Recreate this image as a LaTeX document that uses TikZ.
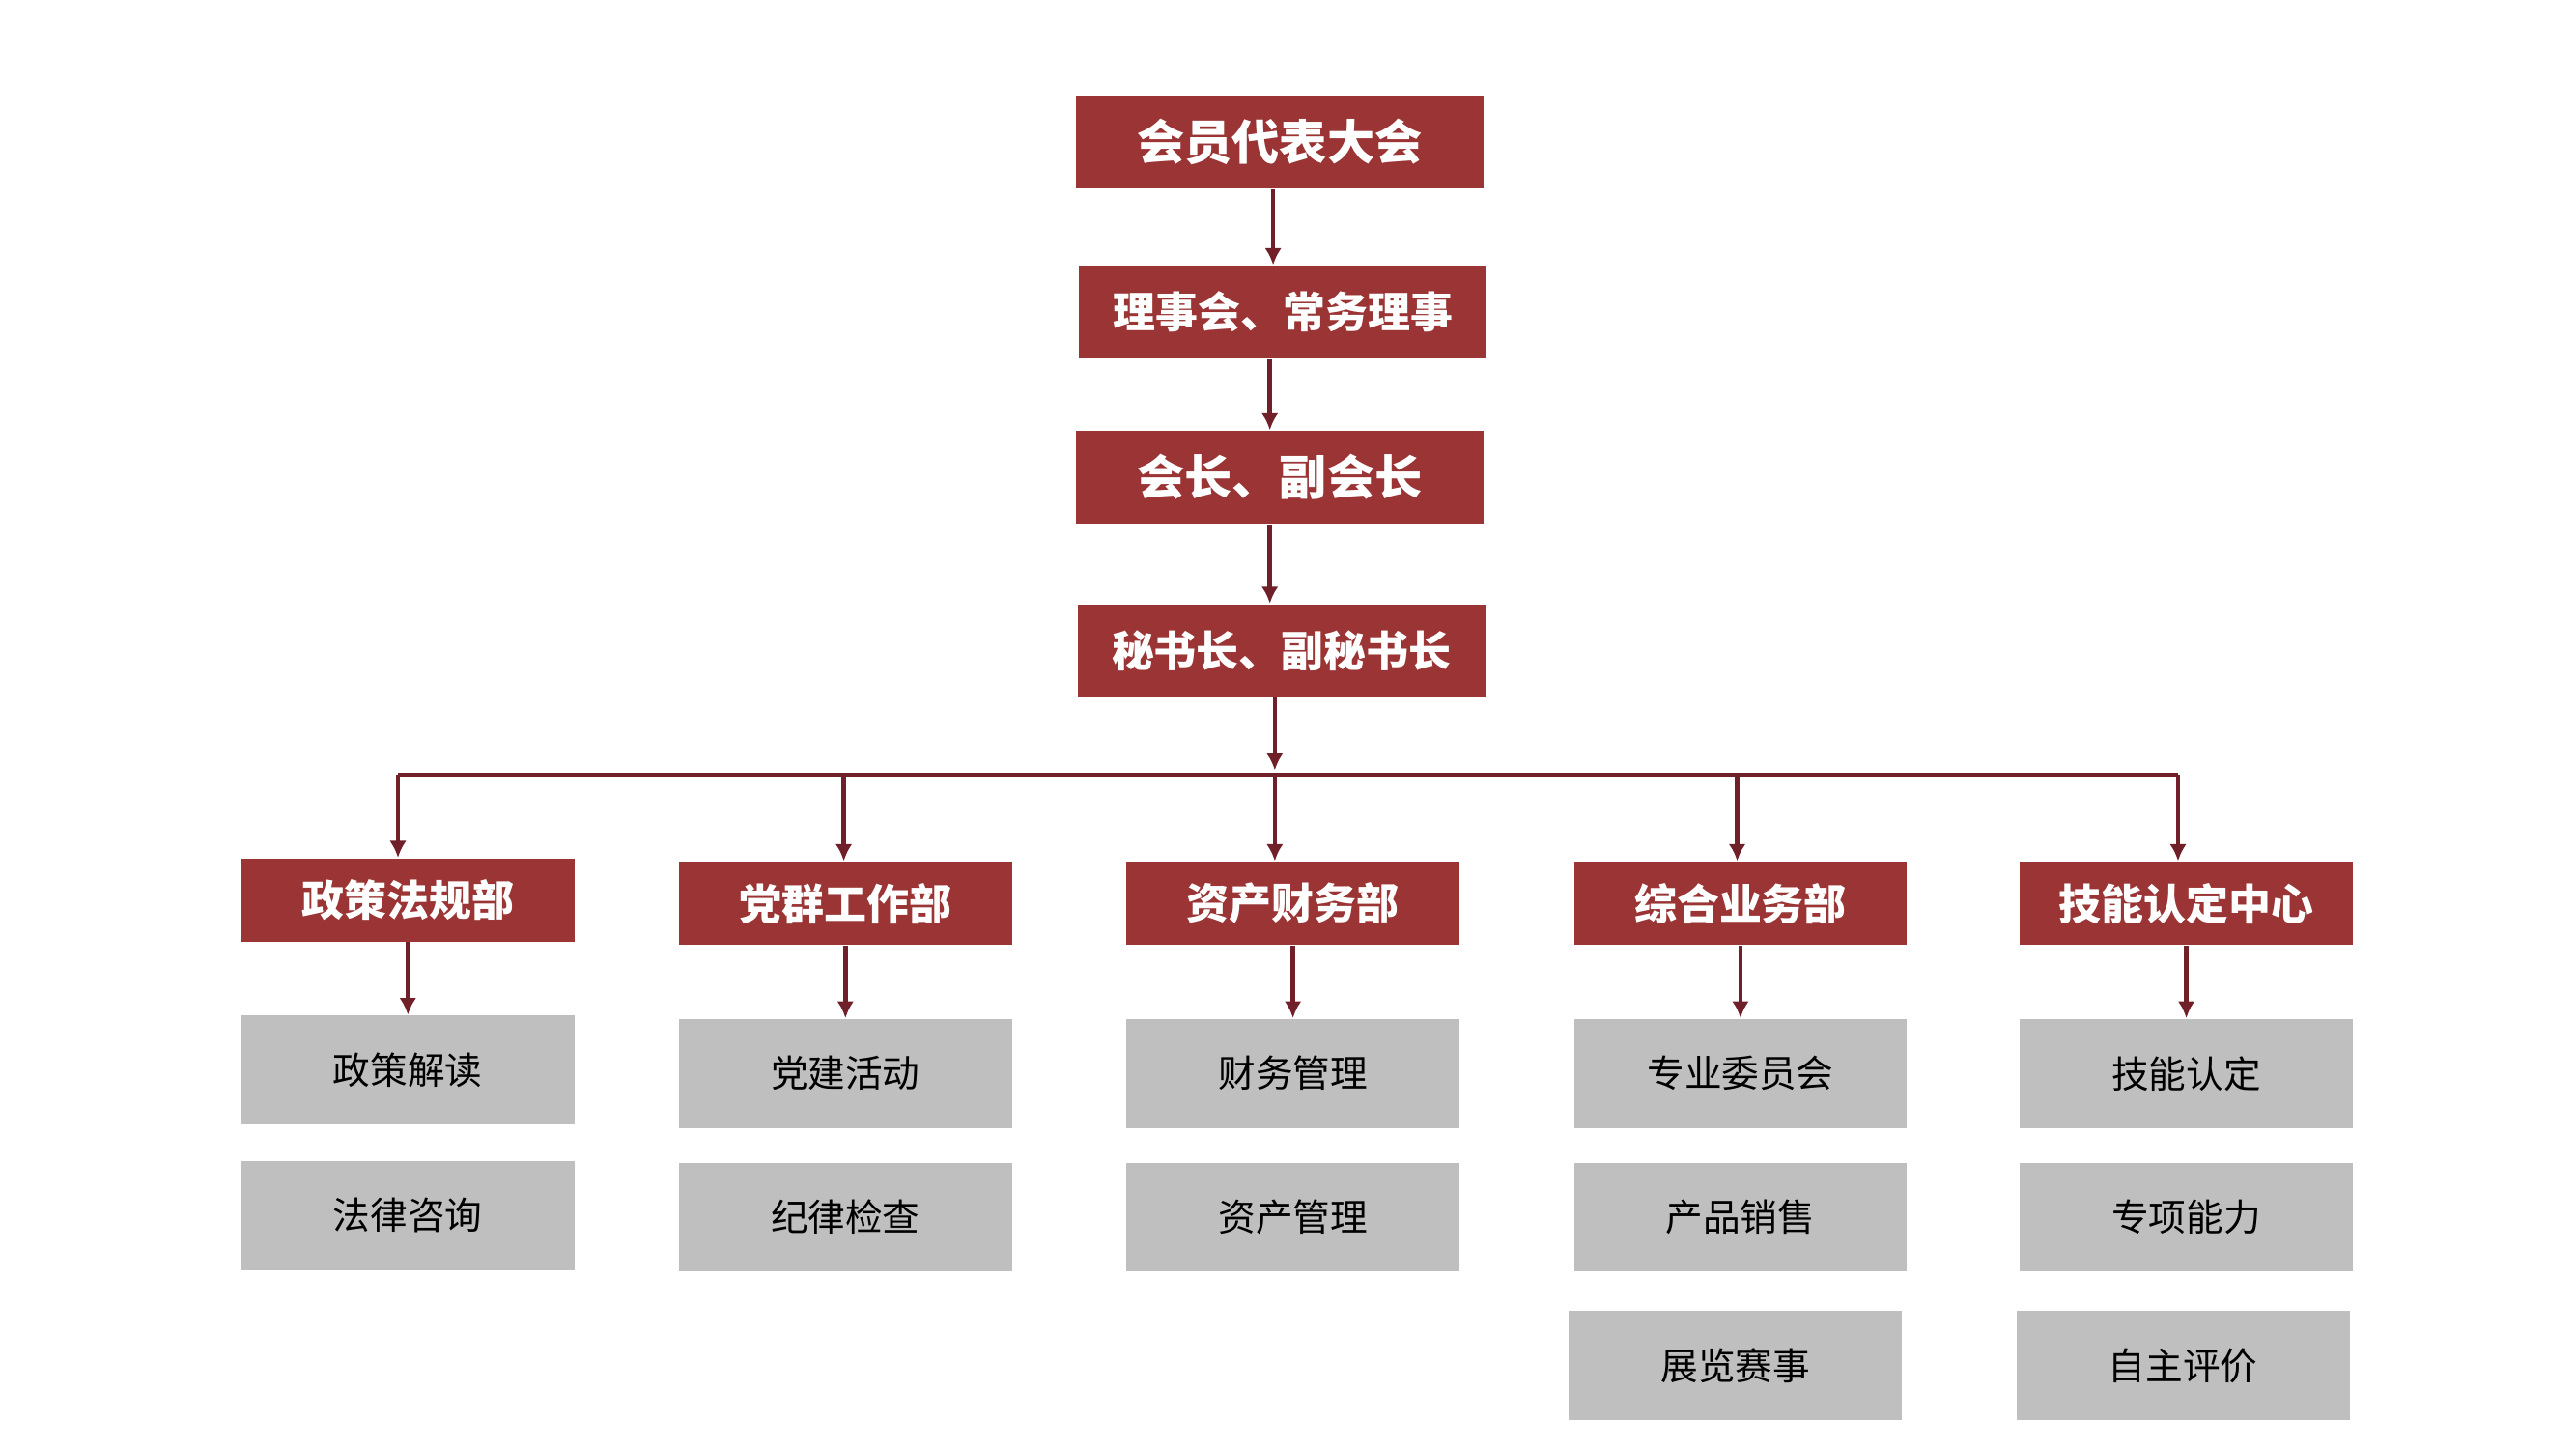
\documentclass[tikz,border=0pt]{standalone}
\usepackage{fontspec}
\newfontfamily\cjk{Noto Sans CJK SC}
\usetikzlibrary{positioning}
\definecolor{rougeorg}{RGB}{155,52,52}
\definecolor{traitorg}{RGB}{112,32,40}
\definecolor{grisorg}{RGB}{191,191,191}
\tikzstyle{chef}=[fill=rougeorg, text=white, font=\cjk\bfseries\fontsize{14pt}{16pt}\selectfont, minimum width=4.22cm, minimum height=0.96cm, inner sep=0]
\tikzstyle{dept}=[fill=rougeorg, text=white, font=\cjk\bfseries\fontsize{12.5pt}{14pt}\selectfont, minimum width=3.45cm, minimum height=0.86cm, inner sep=0]
\tikzstyle{tache}=[fill=grisorg, text=black, font=\cjk\fontsize{11pt}{13pt}\selectfont, minimum width=3.45cm, minimum height=1.13cm, inner sep=0]
\tikzstyle{fleche}=[traitorg, line width=1.3pt, -{Latex[length=5pt,width=5pt]}]
\usetikzlibrary{arrows.meta}
\begin{document}
\begin{tikzpicture}[x=0.0171cm, y=-0.0171cm]
\useasboundingbox (0,0) rectangle (1560,877);
% direction
\node[chef] (A) at (775,86) {会员代表大会};
\node[chef, font=\cjk\bfseries\fontsize{12.5pt}{14pt}\selectfont] (B) at (777,189) {理事会、常务理事};
\node[chef] (C) at (775,289) {会长、副会长};
\node[chef, font=\cjk\bfseries\fontsize{12.5pt}{14pt}\selectfont] (D) at (776,394) {秘书长、副秘书长};
\draw[fleche] (A.south -| 771,0) -- (B.north -| 771,0);
\draw[fleche] (B.south -| 769,0) -- (C.north -| 769,0);
\draw[fleche] (C.south -| 769,0) -- (D.north -| 769,0);
\coordinate (H) at (772,469);
\coordinate (Hg) at (241,469);
\coordinate (Hd) at (1319,469);
\draw[fleche] (D.south -| H) -- ++(0,44);
\draw[traitorg, line width=1.3pt] (Hg) -- (Hd);
% departements
\foreach \I/\X/\Y/\T in {1/247/545/政策法规部, 2/512/547/党群工作部, 3/783/547/资产财务部, 4/1054/547/综合业务部, 5/1324/547/技能认定中心}
{\node[dept] (P\I) at (\X,\Y) {\T};}
\foreach \I/\X in {1/241, 2/511, 3/772, 4/1052, 5/1319}
\draw[fleche] (\X,469) -- (P\I.north -| \X,0);
% taches
\node[tache] (T11) at (247,648) {政策解读};
\node[tache] (T12) at (247,736) {法律咨询};
\node[tache] (T21) at (512,650) {党建活动};
\node[tache] (T22) at (512,737) {纪律检查};
\node[tache] (T31) at (783,650) {财务管理};
\node[tache] (T32) at (783,737) {资产管理};
\node[tache] (T41) at (1054,650) {专业委员会};
\node[tache] (T42) at (1054,737) {产品销售};
\node[tache] (T43) at (1051,827) {展览赛事};
\node[tache] (T51) at (1324,650) {技能认定};
\node[tache] (T52) at (1324,737) {专项能力};
\node[tache] (T53) at (1322,827) {自主评价};
\foreach \I in {1,...,5}
\draw[fleche] (P\I) -- (T\I1);
\end{tikzpicture}
\end{document}
